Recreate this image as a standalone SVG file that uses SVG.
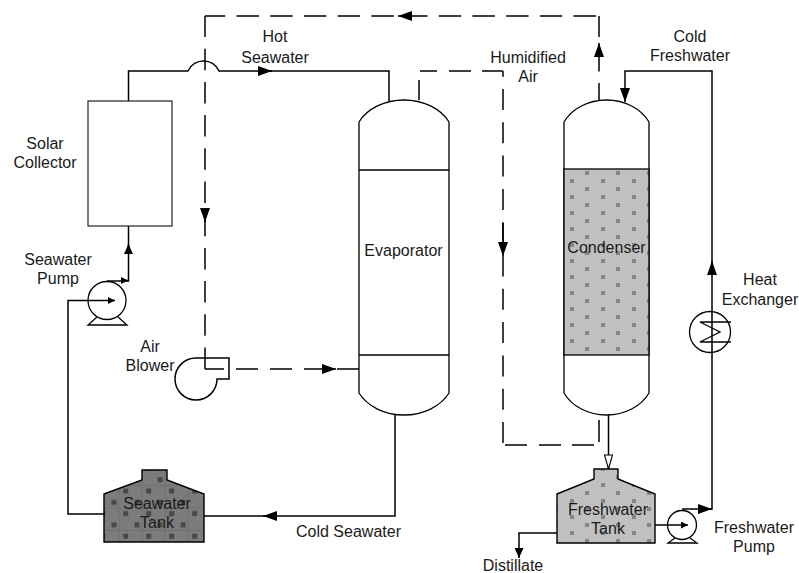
<svg xmlns="http://www.w3.org/2000/svg" width="799" height="573" viewBox="0 0 799 573">
<style>
text{font-family:"Liberation Sans",Arial,sans-serif;font-size:16px;fill:#1a1a1a;text-anchor:middle}
.s{fill:none;stroke:#000;stroke-width:1.5}
.n{fill:#fff;stroke:#000;stroke-width:1.3}
.o{fill:none;stroke:#000;stroke-width:1.3}
.t{stroke:#000;stroke-width:1.4}
</style>
<defs>
<marker id="a" markerUnits="userSpaceOnUse" markerWidth="14" markerHeight="10" refX="14" refY="5" orient="auto"><path d="M0 0L14 5L0 10Z" fill="#000"/></marker>
<marker id="c" markerUnits="userSpaceOnUse" markerWidth="10" markerHeight="9" refX="10" refY="4.5" orient="auto"><path d="M0 0L10 4.5L0 9Z" fill="#000"/></marker>
<marker id="b" markerUnits="userSpaceOnUse" markerWidth="7" markerHeight="7" refX="7" refY="3.5" orient="auto"><path d="M0 0L7 3.5L0 7Z" fill="#000"/></marker>
<pattern id="lg" width="31" height="16" patternUnits="userSpaceOnUse" x="564" y="169"><rect width="31" height="16" fill="#c0c0c0"/><rect x="21" y="2" width="4" height="4" fill="#858585"/><rect x="6" y="10" width="4" height="4" fill="#858585"/></pattern>
<pattern id="dg" width="23" height="22.6" patternUnits="userSpaceOnUse" x="108" y="474"><rect width="23" height="22.6" fill="#7c7c7c"/><path d="M11 0V22.6M0 11.3H23" stroke="#707070" stroke-width="1"/><rect x="15.2" y="14.5" width="5" height="5" fill="#484848"/><rect x="3.5" y="3.2" width="5" height="5" fill="#484848"/></pattern>
</defs>
<g id="connectors">
<path class="s" d="M128.5 101V71H188A17 17 0 0 1 219 71H389V101"/>
<path class="s" d="M258 71H272" marker-end="url(#a)"/>
<path class="s" d="M205 369V16" stroke-dasharray="21.5 11.7"/>
<path class="s" d="M205 208V222" marker-end="url(#a)"/>
<path class="s" d="M596 16H205" stroke-dasharray="22.5 11.2"/>
<path class="s" d="M412 16H398" marker-end="url(#a)"/>
<path class="s" d="M599 100V16" stroke-dasharray="23 11.5" stroke-dashoffset="6"/>
<path class="s" d="M599 56V43" marker-end="url(#a)"/>
<path class="s" d="M419 100V80"/>
<path class="s" d="M420 71H437M449 71H471M482 71H503"/>
<path class="s" d="M503 443V71" stroke-dasharray="21 12.3"/>
<path class="s" d="M503 223V256" marker-end="url(#a)"/>
<path class="s" d="M505 445H527M539 445H561M572 445H594"/>
<path class="s" d="M599 420V442"/>
<path class="s" d="M205 369H224M236 369H258M270 369H292M304 369H326M337 369H359"/>
<path class="s" d="M322 369H336" marker-end="url(#a)"/>
<path class="s" d="M395 415V516H204"/>
<path class="s" d="M277 516H263" marker-end="url(#a)"/>
<path class="s" d="M104 514H68V300.500H108"/>
<path class="s" d="M108 300.500H115" marker-end="url(#b)"/>
<path class="s" d="M107 281H128.500V226"/>
<path class="s" d="M121 280.500H128" marker-end="url(#b)"/>
<path class="s" d="M128.500 254V244" marker-end="url(#c)"/>
<path class="s" d="M608.500 415V469"/>
<path d="M604.500 455L608.500 469L612.500 455Z" fill="#fff" stroke="#000" stroke-width="1.1"/>
<path class="s" d="M557 533H519V548"/>
<path class="s" d="M519 548V558" marker-end="url(#c)"/>
<path class="s" d="M655 525H683"/>
<path class="s" d="M681 525H688" marker-end="url(#b)"/>
<path class="s" d="M682 509H712V71H625V88"/>
<path class="s" d="M699 509H712" marker-end="url(#a)"/>
<path class="s" d="M712 275V261" marker-end="url(#a)"/>
<path class="s" d="M625 88V102" marker-end="url(#a)"/>
</g>
<g id="solar-collector"><rect x="88" y="101" width="84" height="125" fill="none" stroke="#222" stroke-width="1.2"/></g>
<g id="evaporator">
<path class="o" d="M359 122A50 39 0 0 1 449 122V393A50 39 0 0 1 359 393Z"/>
<path class="o" d="M359 170H449M359 355H449"/>
</g>
<g id="condenser">
<path class="o" d="M564 122A47 38.4 0 0 1 649 122V393A47 38.4 0 0 1 564 393Z"/>
<rect x="564" y="169" width="85" height="186" fill="url(#lg)" stroke="#000" stroke-width="1.3"/>
</g>
<g id="seawater-tank"><path class="t" d="M104 494L142 480V470H167V480L204 494V542H104Z" fill="url(#dg)"/></g>
<g id="freshwater-tank"><path class="t" d="M557 494L594 479V469H618V479L655 494V543H557Z" fill="url(#lg)"/></g>
<g id="seawater-pump"><circle class="o" cx="107" cy="300.500" r="19"/><path class="o" d="M97 317L88 325H127L118 317"/></g>
<g id="freshwater-pump"><circle class="o" cx="682" cy="525" r="14.500"/><path class="o" d="M675 538L668 543H697L690 538"/></g>
<g id="heat-exchanger"><circle class="o" cx="710" cy="332" r="20.500"/><path class="o" d="M731 322H700L720 332L700 342H731"/></g>
<g id="air-blower"><path class="s" d="M196 358H229V379H217A21 21 0 1 1 196 358"/></g>
<g id="labels">
<text x="45" y="149">Solar</text><text x="45" y="168">Collector</text>
<text x="58" y="265">Seawater</text><text x="58" y="284">Pump</text>
<text x="150" y="352">Air</text><text x="150" y="371">Blower</text>
<text x="275" y="42">Hot</text><text x="275" y="63">Seawater</text>
<text x="528" y="63">Humidified</text><text x="528" y="82">Air</text>
<text x="690" y="42">Cold</text><text x="690" y="61">Freshwater</text>
<text x="760" y="285">Heat</text><text x="760" y="305">Exchanger</text>
<text x="403.500" y="256">Evaporator</text><text x="606.500" y="253">Condenser</text>
<text x="157" y="509">Seawater</text><text x="157" y="528">Tank</text>
<text x="608" y="515">Freshwater</text><text x="608" y="534">Tank</text>
<text x="348.500" y="537">Cold Seawater</text>
<text x="754" y="533">Freshwater</text><text x="754" y="552">Pump</text>
<text x="513" y="571">Distillate</text>
</g>
</svg>
